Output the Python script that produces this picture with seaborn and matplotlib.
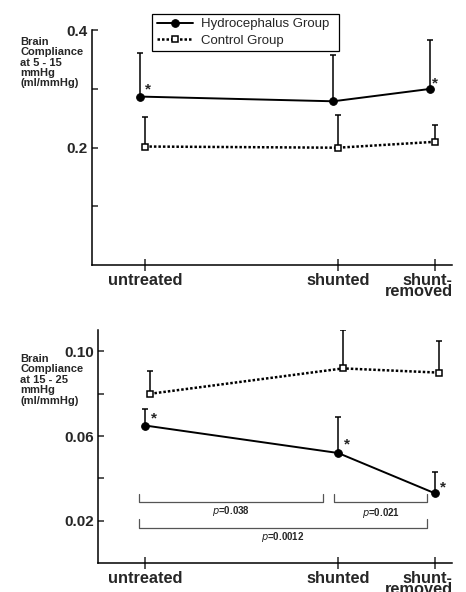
import matplotlib
matplotlib.use("Agg")
import matplotlib.pyplot as plt
import matplotlib.transforms as mtransforms
import seaborn as sns
import numpy as np
import pandas as pd

# conditions along the x axis (time-ish spacing: shunted twice as far as shunt-removed)
conditions = ["untreated", "shunted", "shunt-\nremoved"]
x_pos = [0, 2, 3]

# brain compliance at 5 - 15 mmHg (ml/mmHg)
low_hydro = [0.287, 0.279, 0.300]
low_hydro_err = [0.074, 0.078, 0.083]
low_control = [0.202, 0.200, 0.210]
low_control_err = [0.050, 0.056, 0.028]

# brain compliance at 15 - 25 mmHg (ml/mmHg)
high_hydro = [0.065, 0.052, 0.033]
high_hydro_err = [0.008, 0.017, 0.010]
high_control = [0.080, 0.092, 0.090]
high_control_err = [0.011, 0.018, 0.015]

# significance marks (index of point marked with *)
low_stars = [0, 2]
high_stars = [0, 1, 2]

# p-value brackets in the lower panel: (start index, end index, label)
brackets = [(0, 1, "=0.038"), (1, 2, "=0.021"), (0, 2, "=0.0012")]

sns.set_style("ticks")
plt.rcParams["font.family"] = ["Liberation Sans", "DejaVu Sans"]

fig = plt.figure(figsize=(4.66, 5.92), dpi=100)
ax_top = fig.add_axes([0.197, 0.552, 0.773, 0.397])
ax_bot = fig.add_axes([0.210, 0.049, 0.760, 0.393])


def draw_panel(ax, hydro, hydro_err, control, control_err, hydro_shift, control_shift, stars, star_offsets):
    xh = np.array(x_pos) + hydro_shift
    xc = np.array(x_pos) + control_shift
    df_h = pd.DataFrame({"x": xh, "y": hydro})
    df_c = pd.DataFrame({"x": xc, "y": control})
    sns.lineplot(data=df_h, x="x", y="y", ax=ax, color="black", lw=1.4,
                 marker="o", markersize=5.5, markeredgecolor="black",
                 label="Hydrocephalus Group", legend=False)
    sns.lineplot(data=df_c, x="x", y="y", ax=ax, color="black", lw=1.8, ls=(0, (1, 0.8)),
                 marker="s", markersize=5, markerfacecolor="white",
                 markeredgecolor="black", markeredgewidth=1.1,
                 label="Control Group", legend=False)
    ax.errorbar(xh, hydro, yerr=[np.zeros(3), hydro_err], fmt="none",
                ecolor="black", elinewidth=1.1, capsize=2, capthick=1.1, zorder=1)
    ax.errorbar(xc, control, yerr=[np.zeros(3), control_err], fmt="none",
                ecolor="black", elinewidth=1.1, capsize=2, capthick=1.1, zorder=1)
    for i, off in zip(stars, star_offsets):
        ax.annotate("*", (xh[i], hydro[i]), xytext=off, textcoords="offset points",
                    ha="center", va="center", fontsize=11, fontweight="bold")

    ax.set_xticks(x_pos)
    ax.set_xticklabels(conditions, fontsize=11.8, fontweight="bold", linespacing=0.72)
    ax.tick_params(axis="x", direction="inout", length=9, width=1.1, pad=1)
    ax.tick_params(axis="y", direction="in", length=4, width=1.1, pad=3)
    # last label is right-aligned against the end of the axis
    last = ax.get_xticklabels()[-1]
    last.set_horizontalalignment("right")
    last.set_multialignment("right")
    last.set_transform(last.get_transform() +
                       mtransforms.ScaledTranslation(18 / 100, 0, fig.dpi_scale_trans))
    sns.despine(ax=ax)
    for sp in ("left", "bottom"):
        ax.spines[sp].set_linewidth(1.1)
        ax.spines[sp].set_color("black")
    ax.set_xlabel("")
    ax.set_ylabel("")


# upper panel
draw_panel(ax_top, low_hydro, low_hydro_err, low_control, low_control_err,
           -0.05, 0.0, low_stars, [(6, 5), (4, 4)])
ax_top.set_xlim(-0.55, 3.18)
ax_top.set_ylim(0, 0.4)
ax_top.set_yticks([0.1, 0.2, 0.3, 0.4])
ax_top.set_yticklabels(["", "0.2", "", "0.4"], fontsize=11, fontweight="bold")
fig.text(0.043, 0.938, "Brain\nCompliance\nat 5 - 15\nmmHg\n(ml/mmHg)", fontsize=8,
         fontweight="bold", va="top", ha="left", linespacing=1.05)

# lower panel
draw_panel(ax_bot, high_hydro, high_hydro_err, high_control, high_control_err,
           0.0, 0.05, high_stars, [(6, 5), (6, 6), (6, 4)])
ax_bot.set_xlim(-0.49, 3.18)
ax_bot.set_ylim(0, 0.110)
ax_bot.set_yticks([0.02, 0.04, 0.06, 0.08, 0.10])
ax_bot.set_yticklabels(["0.02", "", "0.06", "", "0.10"], fontsize=11, fontweight="bold")
fig.text(0.043, 0.402, "Brain\nCompliance\nat 15 - 25\nmmHg\n(ml/mmHg)", fontsize=8,
         fontweight="bold", va="top", ha="left", linespacing=1.05)

# p-value brackets
bracket_y = [0.029, 0.029, 0.0166]
label_y = [0.0248, 0.0238, 0.0125]
for (a, b, lab), y, ytxt in zip(brackets, bracket_y, label_y):
    x0 = x_pos[a] - (0.04 if a == 1 else 0.06)
    x1 = x_pos[b] - (0.16 if b == 1 else 0.08)
    tick = 0.0035 if y > 0.02 else 0.004
    ax_bot.plot([x0, x0, x1, x1], [y + tick, y, y, y + tick], color="#555555", lw=0.9)
    ax_bot.text((x0 + x1) / 2, ytxt, "$p$" + lab, ha="center", va="center",
                fontsize=7, fontweight="bold")

# legend in a box above the upper panel
handles, labels = ax_top.get_legend_handles_labels()
fig.legend(handles, labels, loc="upper left", bbox_to_anchor=(0.326, 0.977, 0.401, 0),
           mode="expand", frameon=True, fancybox=False, edgecolor="black", framealpha=1,
           fontsize=9.5, handlelength=2.8, borderpad=0.35, labelspacing=0.3,
           handletextpad=0.6, borderaxespad=0)
fig.legends[0].get_frame().set_linewidth(0.9)

fig.savefig("out.png", dpi=100)
